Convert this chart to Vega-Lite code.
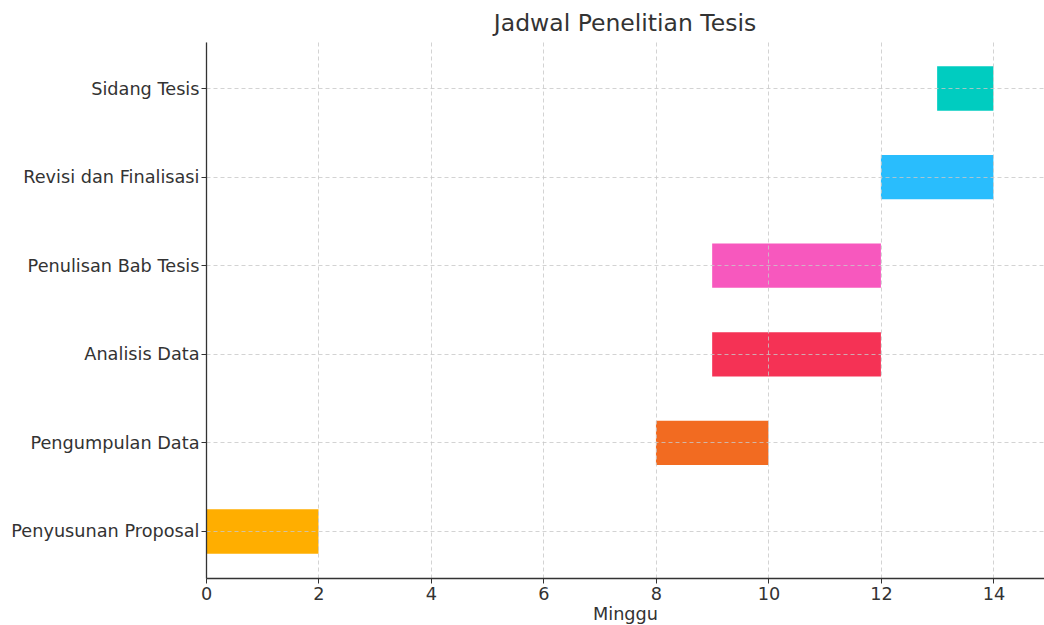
{
  "$schema": "https://vega.github.io/schema/vega-lite/v6.json",
  "autosize": "none",
  "width": 838,
  "height": 536,
  "padding": {"left": 206, "top": 42, "right": 0, "bottom": 47},
  "background": "white",
  "title": {
    "text": "Jadwal Penelitian Tesis",
    "font": "DejaVu Sans",
    "fontSize": 23.5,
    "fontWeight": "normal",
    "color": "#333333",
    "anchor": "middle",
    "offset": 7
  },
  "config": {
    "view": {"stroke": null},
    "font": "DejaVu Sans"
  },
  "data": {
    "values": [
      {"task": "Penyusunan Proposal", "start": 0, "end": 2},
      {"task": "Pengumpulan Data", "start": 8, "end": 10},
      {"task": "Analisis Data", "start": 9, "end": 12},
      {"task": "Penulisan Bab Tesis", "start": 9, "end": 12},
      {"task": "Revisi dan Finalisasi", "start": 12, "end": 14},
      {"task": "Sidang Tesis", "start": 13, "end": 14}
    ]
  },
  "mark": {"type": "bar", "clip": true},
  "encoding": {
    "y": {
      "field": "task",
      "type": "nominal",
      "sort": ["Sidang Tesis", "Revisi dan Finalisasi", "Penulisan Bab Tesis", "Analisis Data", "Pengumpulan Data", "Penyusunan Proposal"],
      "scale": {"paddingInner": 0.5, "paddingOuter": 0.275},
      "axis": {
        "title": null,
        "zindex": 1,
        "bandPosition": 0.5,
        "labelFont": "DejaVu Sans",
        "labelFontSize": 17.7,
        "labelColor": "#333333",
        "labelPadding": 2,
        "labelOffset": 1,
        "labelLimit": 300,
        "tickSize": 5,
        "tickColor": "#333333",
        "domainColor": "#333333",
        "domainWidth": 1.3,
        "grid": true,
        "gridDash": [4, 3],
        "gridColor": "#c8c8c8",
        "gridWidth": 0.8
      }
    },
    "x": {
      "field": "start",
      "type": "quantitative",
      "scale": {"domain": [0, 14.9], "nice": false, "zero": false},
      "axis": {
        "title": "Minggu",
        "titleFont": "DejaVu Sans",
        "titleFontSize": 17.7,
        "titleFontWeight": "normal",
        "titleColor": "#333333",
        "titlePadding": 3,
        "zindex": 1,
        "values": [0, 2, 4, 6, 8, 10, 12, 14],
        "labelFont": "DejaVu Sans",
        "labelFontSize": 17.7,
        "labelColor": "#333333",
        "labelPadding": 2,
        "labelFlush": false,
        "tickSize": 5,
        "tickColor": "#333333",
        "domainColor": "#333333",
        "domainWidth": 1.3,
        "grid": true,
        "gridDash": [4, 3],
        "gridColor": "#c8c8c8",
        "gridWidth": 0.8
      }
    },
    "x2": {"field": "end"},
    "color": {
      "field": "task",
      "type": "nominal",
      "legend": null,
      "scale": {
        "domain": ["Penyusunan Proposal", "Pengumpulan Data", "Analisis Data", "Penulisan Bab Tesis", "Revisi dan Finalisasi", "Sidang Tesis"],
        "range": ["#FFAE00", "#F26B21", "#F53255", "#F758BE", "#29BDFD", "#00CCC0"]
      }
    }
  }
}
